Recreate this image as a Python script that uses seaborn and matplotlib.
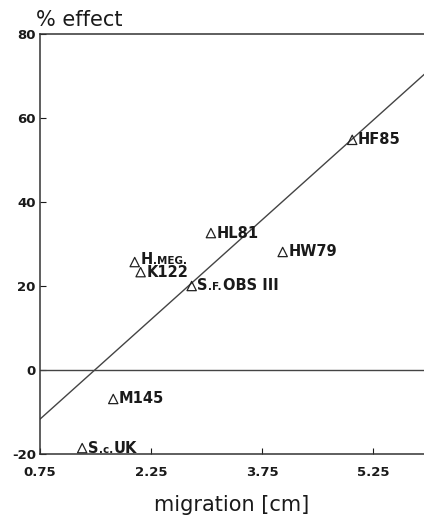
import matplotlib
matplotlib.use("Agg")
import matplotlib.pyplot as plt
import seaborn as sns
import pandas as pd
from matplotlib.offsetbox import TextArea, HPacker, AnnotationBbox

# ---- data ----
names = ["HF85", "HL81", "HW79", "H.MEG.", "K122", "S.F.OBS III", "M145", "S.c.UK"]
migration = [4.97, 3.06, 4.03, 2.03, 2.11, 2.80, 1.74, 1.32]
effect = [54.8, 32.6, 28.1, 25.7, 23.3, 20.0, -6.9, -18.6]
# label pieces: (text, is_small)
label_parts = [
    [("HF85", False)],
    [("HL81", False)],
    [("HW79", False)],
    [("H", False), (".MEG.", True)],
    [("K122", False)],
    [("S", False), (".F.", True), ("OBS III", False)],
    [("M145", False)],
    [("S", False), (".c.", True), ("UK", False)],
]
fit_x = [0.75, 5.95]
fit_y = [-11.7, 70.5]
x_ticks = [0.75, 2.25, 3.75, 5.25]
y_ticks = [-20, 0, 20, 40, 60, 80]
x_label = "migration [cm]"
y_label = "% effect"

sns.set_style("ticks")
plt.rcParams["font.family"] = ["DejaVu Sans"]

df = pd.DataFrame({"name": names, "migration": migration, "effect": effect})
fit = pd.DataFrame({"migration": fit_x, "effect": fit_y})

fig = plt.figure(figsize=(4.24, 5.16), dpi=100)
ax = fig.add_axes([40 / 424, 62 / 516, 1 - 40 / 424, 420 / 516])

ax.axhline(0, color="#444444", lw=1.0, zorder=1)
sns.lineplot(data=fit, x="migration", y="effect", ax=ax, color="#444444", lw=1.0, zorder=2)
sns.scatterplot(data=df, x="migration", y="effect", ax=ax, marker="^", s=45,
                facecolors="none", edgecolor="#222222", linewidth=0.9, zorder=3)

for name, x, y, parts in zip(names, migration, effect, label_parts):
    areas = []
    for txt, small in parts:
        areas.append(TextArea(txt, textprops=dict(
            fontsize=7.5 if small else 10.5, fontweight="bold", color="#1a1a1a")))
    box = HPacker(children=areas, align="baseline", pad=0, sep=0.5)
    # the crowded H.MEG. label sits a little higher, as in the reference
    dy = 2.0 if name == "H.MEG." else 0.0
    ab = AnnotationBbox(box, (x, y), xybox=(4, dy), xycoords="data",
                        boxcoords="offset points", box_alignment=(0, 0.5),
                        frameon=False, pad=0)
    ax.add_artist(ab)

ax.set_xlim(0.75, 5.94)
ax.set_ylim(-20, 80)
ax.set_xticks(x_ticks)
ax.set_xticklabels([f"{t:.2f}" for t in x_ticks], fontweight="bold", fontsize=9.5)
ax.set_yticks(y_ticks)
ax.set_yticklabels([str(t) for t in y_ticks], fontweight="bold", fontsize=9.5)
ax.tick_params(direction="in", length=4, width=0.8, colors="#1a1a1a")
ax.tick_params(axis="x", pad=9)
ax.tick_params(axis="y", pad=3)

for side in ["left", "bottom", "top"]:
    ax.spines[side].set_visible(True)
    ax.spines[side].set_color("#333333")
    ax.spines[side].set_linewidth(1.1)
ax.spines["right"].set_visible(False)

ax.set_xlabel(x_label, fontsize=15, labelpad=11, color="#1a1a1a")
ax.set_ylabel("")
ax.text(-0.01, 1.01, y_label, transform=ax.transAxes, ha="left", va="bottom",
        fontsize=15, color="#1a1a1a")

fig.savefig("out.png", dpi=100)
